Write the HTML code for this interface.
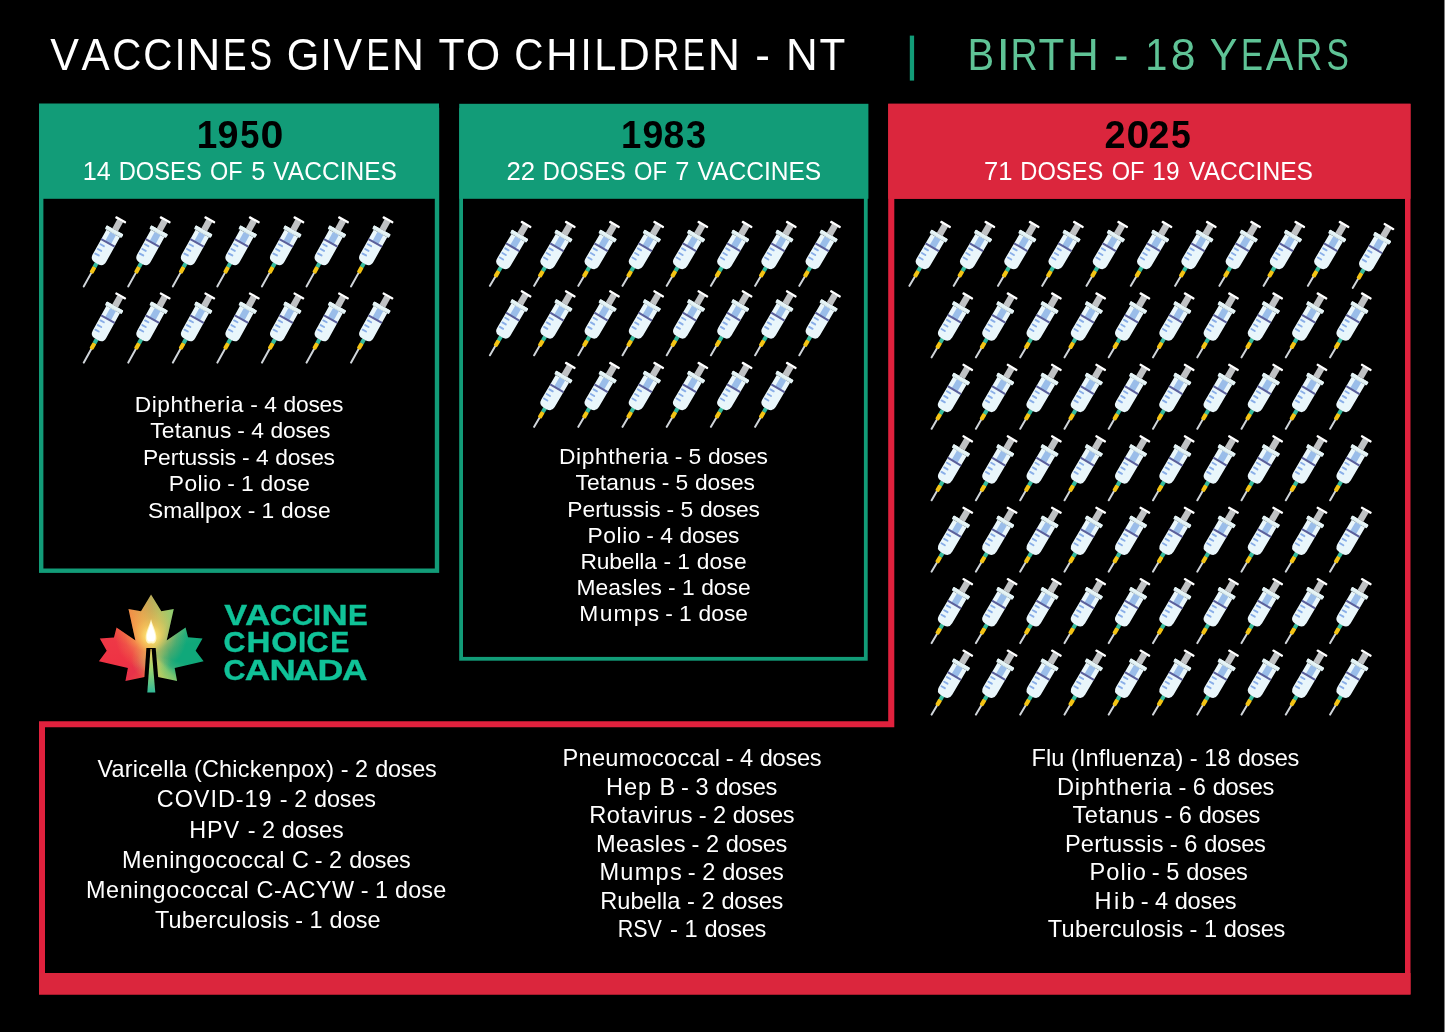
<!DOCTYPE html>
<html lang="en"><head><meta charset="utf-8"><title>Vaccines given to children - NT</title>
<style>
html,body{margin:0;padding:0;background:#000;}
body{width:1445px;height:1032px;position:relative;overflow:hidden;font-family:"Liberation Sans",sans-serif;}
svg{position:absolute;left:0;top:0;}
#txt{position:absolute;left:0;top:0;width:1445px;height:1032px;will-change:transform;}
.t{position:absolute;white-space:nowrap;transform-origin:0 0;margin:0;padding:0;}
.t span{display:inline-block;}
</style></head><body>
<svg width="1445" height="1032" viewBox="0 0 1445 1032">
<defs><g id="body">
<rect x="-2.1" y="-6.7" width="4.2" height="7.2" rx="1.2" fill="#f4c414"/>
<rect x="-2.05" y="-10.9" width="4.1" height="4.6" fill="#36bb9d"/>
<path d="M-7.7,-44.8 L7.7,-44.8 L7.7,-16.6 Q7.7,-10.6 1.7,-10.6 L-1.7,-10.6 Q-7.7,-10.6 -7.7,-16.6 Z" fill="#e9f6fb"/>
<rect x="-3.3" y="-44.8" width="6.6" height="11" fill="#9abde9"/>
<rect x="-7.7" y="-34.9" width="15.4" height="2.0" fill="#5a5f9b"/>
<rect x="-6.8" y="-30.1" width="5.8" height="1.9" rx="0.95" fill="#89aee8"/>
<rect x="-6.8" y="-24.7" width="5.8" height="1.9" rx="0.95" fill="#89aee8"/>
<rect x="-6.8" y="-19.5" width="5.8" height="1.9" rx="0.95" fill="#89aee8"/>
<rect x="-9.5" y="-48.8" width="19" height="4.1" rx="0.9" fill="#dbecef"/>
<rect x="-9.5" y="-48.8" width="19" height="2.6" rx="0.9" fill="#e6f4f6"/>
<rect x="-3.3" y="-59.4" width="6.6" height="10.7" fill="#bfc1c3"/>
<rect x="-6" y="-61.5" width="12" height="2.35" rx="0.9" fill="#ffffff"/>
</g>
<g id="syrA"><rect x="-1" y="-17.3" width="2" height="17.3" rx="0.8" fill="#d0d5da"/><use href="#body" y="-16.8"/></g>
<g id="syrB"><rect x="-1" y="-12.4" width="2" height="12.4" rx="0.8" fill="#d0d5da"/><use href="#body" y="-11.9"/></g></defs>
<rect x="41.2" y="110" width="395.8" height="460.7" fill="none" stroke="#129c78" stroke-width="4.4"/>
<rect x="39" y="103.5" width="400" height="95.3" fill="#129c78"/>
<rect x="461.1" y="110" width="404.7" height="548.8" fill="none" stroke="#129c78" stroke-width="3.8"/>
<rect x="459.2" y="103.8" width="409.2" height="95" fill="#129c78"/>
<path d="M888.2,103.8 L1410.5,103.8 L1410.5,994.5 L39,994.5 L39,721.3 L888.2,721.3 Z M894.3,198.8 L1405,198.8 L1405,973 L45,973 L45,727.3 L894.3,727.3 Z" fill="#e0213d" fill-rule="evenodd"/>
<rect x="888.2" y="103.8" width="522.3" height="95" fill="#db263d"/>
<rect x="39" y="973" width="1371.5" height="21.5" fill="#db263d"/>
<rect x="909.8" y="35.6" width="4.3" height="45" fill="#129c78"/>
<rect x="1444" y="0" width="1" height="1032" fill="#7c7c7c"/>
<use href="#syrA" transform="translate(83.3,287.3) rotate(29.0)"/>
<use href="#syrA" transform="translate(127.8,287.3) rotate(29.0)"/>
<use href="#syrA" transform="translate(172.4,287.3) rotate(29.0)"/>
<use href="#syrA" transform="translate(216.9,287.3) rotate(29.0)"/>
<use href="#syrA" transform="translate(261.5,287.3) rotate(29.0)"/>
<use href="#syrA" transform="translate(306.1,287.3) rotate(29.0)"/>
<use href="#syrA" transform="translate(350.6,287.3) rotate(29.0)"/>
<use href="#syrA" transform="translate(83.3,363.4) rotate(29.0)"/>
<use href="#syrA" transform="translate(127.8,363.4) rotate(29.0)"/>
<use href="#syrA" transform="translate(172.4,363.4) rotate(29.0)"/>
<use href="#syrA" transform="translate(216.9,363.4) rotate(29.0)"/>
<use href="#syrA" transform="translate(261.5,363.4) rotate(29.0)"/>
<use href="#syrA" transform="translate(306.1,363.4) rotate(29.0)"/>
<use href="#syrA" transform="translate(350.6,363.4) rotate(29.0)"/>
<use href="#syrB" transform="translate(489.4,286.7) rotate(30.5)"/>
<use href="#syrB" transform="translate(533.6,286.7) rotate(30.5)"/>
<use href="#syrB" transform="translate(577.8,286.7) rotate(30.5)"/>
<use href="#syrB" transform="translate(622.0,286.7) rotate(30.5)"/>
<use href="#syrB" transform="translate(666.2,286.7) rotate(30.5)"/>
<use href="#syrB" transform="translate(710.4,286.7) rotate(30.5)"/>
<use href="#syrB" transform="translate(754.6,286.7) rotate(30.5)"/>
<use href="#syrB" transform="translate(798.8,286.7) rotate(30.5)"/>
<use href="#syrB" transform="translate(489.4,356.1) rotate(30.5)"/>
<use href="#syrB" transform="translate(533.6,356.1) rotate(30.5)"/>
<use href="#syrB" transform="translate(577.8,356.1) rotate(30.5)"/>
<use href="#syrB" transform="translate(622.0,356.1) rotate(30.5)"/>
<use href="#syrB" transform="translate(666.2,356.1) rotate(30.5)"/>
<use href="#syrB" transform="translate(710.4,356.1) rotate(30.5)"/>
<use href="#syrB" transform="translate(754.6,356.1) rotate(30.5)"/>
<use href="#syrB" transform="translate(798.8,356.1) rotate(30.5)"/>
<use href="#syrB" transform="translate(533.6,427.7) rotate(30.5)"/>
<use href="#syrB" transform="translate(577.8,427.7) rotate(30.5)"/>
<use href="#syrB" transform="translate(622.0,427.7) rotate(30.5)"/>
<use href="#syrB" transform="translate(666.2,427.7) rotate(30.5)"/>
<use href="#syrB" transform="translate(710.4,427.7) rotate(30.5)"/>
<use href="#syrB" transform="translate(754.6,427.7) rotate(30.5)"/>
<use href="#syrB" transform="translate(908.9,286.7) rotate(30.5)"/>
<use href="#syrB" transform="translate(953.2,286.7) rotate(30.5)"/>
<use href="#syrB" transform="translate(997.5,286.7) rotate(30.5)"/>
<use href="#syrB" transform="translate(1041.7,286.7) rotate(30.5)"/>
<use href="#syrB" transform="translate(1086.0,286.7) rotate(30.5)"/>
<use href="#syrB" transform="translate(1130.3,286.7) rotate(30.5)"/>
<use href="#syrB" transform="translate(1174.6,286.7) rotate(30.5)"/>
<use href="#syrB" transform="translate(1218.9,286.7) rotate(30.5)"/>
<use href="#syrB" transform="translate(1263.1,286.7) rotate(30.5)"/>
<use href="#syrB" transform="translate(1307.4,286.7) rotate(30.5)"/>
<use href="#syrB" transform="translate(1352.3,288.8) rotate(30.5)"/>
<use href="#syrB" transform="translate(931.1,358.2) rotate(30.5)"/>
<use href="#syrB" transform="translate(975.4,358.2) rotate(30.5)"/>
<use href="#syrB" transform="translate(1019.7,358.2) rotate(30.5)"/>
<use href="#syrB" transform="translate(1064.0,358.2) rotate(30.5)"/>
<use href="#syrB" transform="translate(1108.2,358.2) rotate(30.5)"/>
<use href="#syrB" transform="translate(1152.5,358.2) rotate(30.5)"/>
<use href="#syrB" transform="translate(1196.8,358.2) rotate(30.5)"/>
<use href="#syrB" transform="translate(1241.0,358.2) rotate(30.5)"/>
<use href="#syrB" transform="translate(1285.3,358.2) rotate(30.5)"/>
<use href="#syrB" transform="translate(1329.6,358.2) rotate(30.5)"/>
<use href="#syrB" transform="translate(931.1,429.6) rotate(30.5)"/>
<use href="#syrB" transform="translate(975.4,429.6) rotate(30.5)"/>
<use href="#syrB" transform="translate(1019.7,429.6) rotate(30.5)"/>
<use href="#syrB" transform="translate(1064.0,429.6) rotate(30.5)"/>
<use href="#syrB" transform="translate(1108.2,429.6) rotate(30.5)"/>
<use href="#syrB" transform="translate(1152.5,429.6) rotate(30.5)"/>
<use href="#syrB" transform="translate(1196.8,429.6) rotate(30.5)"/>
<use href="#syrB" transform="translate(1241.0,429.6) rotate(30.5)"/>
<use href="#syrB" transform="translate(1285.3,429.6) rotate(30.5)"/>
<use href="#syrB" transform="translate(1329.6,429.6) rotate(30.5)"/>
<use href="#syrB" transform="translate(931.1,501.1) rotate(30.5)"/>
<use href="#syrB" transform="translate(975.4,501.1) rotate(30.5)"/>
<use href="#syrB" transform="translate(1019.7,501.1) rotate(30.5)"/>
<use href="#syrB" transform="translate(1064.0,501.1) rotate(30.5)"/>
<use href="#syrB" transform="translate(1108.2,501.1) rotate(30.5)"/>
<use href="#syrB" transform="translate(1152.5,501.1) rotate(30.5)"/>
<use href="#syrB" transform="translate(1196.8,501.1) rotate(30.5)"/>
<use href="#syrB" transform="translate(1241.0,501.1) rotate(30.5)"/>
<use href="#syrB" transform="translate(1285.3,501.1) rotate(30.5)"/>
<use href="#syrB" transform="translate(1329.6,501.1) rotate(30.5)"/>
<use href="#syrB" transform="translate(931.1,572.5) rotate(30.5)"/>
<use href="#syrB" transform="translate(975.4,572.5) rotate(30.5)"/>
<use href="#syrB" transform="translate(1019.7,572.5) rotate(30.5)"/>
<use href="#syrB" transform="translate(1064.0,572.5) rotate(30.5)"/>
<use href="#syrB" transform="translate(1108.2,572.5) rotate(30.5)"/>
<use href="#syrB" transform="translate(1152.5,572.5) rotate(30.5)"/>
<use href="#syrB" transform="translate(1196.8,572.5) rotate(30.5)"/>
<use href="#syrB" transform="translate(1241.0,572.5) rotate(30.5)"/>
<use href="#syrB" transform="translate(1285.3,572.5) rotate(30.5)"/>
<use href="#syrB" transform="translate(1329.6,572.5) rotate(30.5)"/>
<use href="#syrB" transform="translate(931.1,643.9) rotate(30.5)"/>
<use href="#syrB" transform="translate(975.4,643.9) rotate(30.5)"/>
<use href="#syrB" transform="translate(1019.7,643.9) rotate(30.5)"/>
<use href="#syrB" transform="translate(1064.0,643.9) rotate(30.5)"/>
<use href="#syrB" transform="translate(1108.2,643.9) rotate(30.5)"/>
<use href="#syrB" transform="translate(1152.5,643.9) rotate(30.5)"/>
<use href="#syrB" transform="translate(1196.8,643.9) rotate(30.5)"/>
<use href="#syrB" transform="translate(1241.0,643.9) rotate(30.5)"/>
<use href="#syrB" transform="translate(1285.3,643.9) rotate(30.5)"/>
<use href="#syrB" transform="translate(1329.6,643.9) rotate(30.5)"/>
<use href="#syrB" transform="translate(931.1,715.4) rotate(30.5)"/>
<use href="#syrB" transform="translate(975.4,715.4) rotate(30.5)"/>
<use href="#syrB" transform="translate(1019.7,715.4) rotate(30.5)"/>
<use href="#syrB" transform="translate(1064.0,715.4) rotate(30.5)"/>
<use href="#syrB" transform="translate(1108.2,715.4) rotate(30.5)"/>
<use href="#syrB" transform="translate(1152.5,715.4) rotate(30.5)"/>
<use href="#syrB" transform="translate(1196.8,715.4) rotate(30.5)"/>
<use href="#syrB" transform="translate(1241.0,715.4) rotate(30.5)"/>
<use href="#syrB" transform="translate(1285.3,715.4) rotate(30.5)"/>
<use href="#syrB" transform="translate(1329.6,715.4) rotate(30.5)"/>
</svg>
<div id="leaf" style="position:absolute;left:90px;top:585px;width:125px;height:115px;clip-path:polygon(61.05px 9.47px,71.30px 26.18px,83.78px 23.95px,76.65px 55.48px,95.59px 42.56px,98.04px 52.36px,112.52px 53.48px,105.61px 65.73px,113.64px 76.31px,84.67px 83.00px,87.12px 96.03px,67.96px 91.91px,54.59px 91.91px,35.43px 96.03px,37.88px 83.00px,8.91px 76.31px,16.71px 65.73px,9.80px 53.48px,23.95px 52.58px,26.52px 42.56px,45.45px 55.48px,38.44px 23.95px,51.02px 26.18px);background:radial-gradient(circle at 61.1px 50.7px,rgba(255,246,170,1) 0,rgba(252,222,112,.95) 5px,rgba(248,200,92,.75) 11px,rgba(246,186,84,.48) 18px,rgba(246,176,80,.22) 26px,rgba(246,170,80,0) 36px),radial-gradient(circle at 61.1px 74.6px,rgba(214,214,100,.7) 0,rgba(206,212,100,.45) 8px,rgba(200,210,100,.18) 14px,rgba(200,210,100,0) 20px),conic-gradient(from 0deg at 61.1px 69.1px,#bcac5a 0deg,#a4c868 14deg,#88d074 27deg,#48b87a 45deg,#1cac7c 60deg,#10a87a 75deg,#10a87a 105deg,#34b07a 122deg,#7cc670 136deg,#b0cc64 155deg,#c8c05c 170deg,#e09050 180deg,#f06a42 190deg,#ec4046 205deg,#e8324a 224deg,#ee3344 260deg,#ee3846 290deg,#f05242 307deg,#f07a44 322deg,#f08c46 333deg,#dca250 348deg,#bcac5a 360deg);"></div>
<svg width="125" height="115" viewBox="0 0 125 115" style="left:90px;top:585px;">
<defs>
<linearGradient id="sg" gradientUnits="userSpaceOnUse" x1="0" y1="64" x2="0" y2="108">
<stop offset="0" stop-color="#f2d060"/><stop offset="0.45" stop-color="#9fd66e"/><stop offset="1" stop-color="#2fb898"/></linearGradient>
<filter id="fb" x="-50%" y="-50%" width="200%" height="200%"><feGaussianBlur stdDeviation="0.5"/></filter>
</defs>
<path d="M56.4,62.9 L65.7,62.9 L68.2,92.5 L54.4,92.5 Z" fill="#000"/>
<path d="M60.5,64.1 L61.6,64.1 L65.3,107.5 L57.3,107.5 Z" fill="url(#sg)"/>
<path d="M61.05,34.31 C62.39,40.11 66.40,46.79 66.40,52.92 C66.40,57.38 63.50,59.60 61.05,57.93 C58.60,59.60 55.70,57.38 55.70,52.92 C55.70,46.79 59.71,40.11 61.05,34.31 Z" fill="#fff6c0" filter="url(#fb)"/>
<path d="M61.05,34.31 C62.39,40.11 66.40,46.79 66.40,52.92 C66.40,57.38 63.50,59.60 61.05,57.93 C58.60,59.60 55.70,57.38 55.70,52.92 C55.70,46.79 59.71,40.11 61.05,34.31 Z" fill="#ffffff" transform="translate(61.1,49.0) scale(0.8) translate(-61.1,-49.0)"/>
</svg>
<div id="txt">
<div class="ln"><div class="t" id="t0" style="left:50.37px;top:28.95px;font-size:44.0px;line-height:52.8px;color:#fff;font-kerning:none;"><span style="margin-left:0.00px;transform:scaleX(0.978);transform-origin:14.78px 0">V</span><span style="margin-left:1.70px;transform:scaleX(0.961);transform-origin:14.78px 0">A</span><span style="margin-left:0.48px;transform:scaleX(0.915);transform-origin:16.16px 0">C</span><span style="margin-left:-1.23px;transform:scaleX(0.919);transform-origin:16.16px 0">C</span><span style="margin-left:0.29px;transform:scaleX(0.873);transform-origin:5.84px 0">I</span><span style="margin-left:1.71px;transform:scaleX(1.042);transform-origin:15.81px 0">N</span><span style="margin-left:0.62px;transform:scaleX(0.802);transform-origin:15.47px 0">E</span><span style="margin-left:-3.82px;transform:scaleX(0.777);transform-origin:14.44px 0">S</span></div> <div class="t" id="t1" style="left:285.75px;top:28.95px;font-size:44.0px;line-height:52.8px;color:#fff;font-kerning:none;"><span style="margin-left:0.00px;transform:scaleX(0.952);transform-origin:16.50px 0">G</span><span style="margin-left:0.38px;transform:scaleX(0.914);transform-origin:5.84px 0">I</span><span style="margin-left:0.84px;transform:scaleX(0.974);transform-origin:14.78px 0">V</span><span style="margin-left:0.01px;transform:scaleX(0.794);transform-origin:15.47px 0">E</span><span style="margin-left:-0.19px;transform:scaleX(1.006);transform-origin:15.81px 0">N</span></div> <div class="t" id="t2" style="left:437.94px;top:28.95px;font-size:44.0px;line-height:52.8px;color:#fff;font-kerning:none;"><span style="margin-left:0.00px;transform:scaleX(0.971);transform-origin:13.41px 0">T</span><span style="margin-left:1.04px;transform:scaleX(1.008);transform-origin:17.19px 0">O</span></div> <div class="t" id="t3" style="left:513.19px;top:28.95px;font-size:44.0px;line-height:52.8px;color:#fff;font-kerning:none;"><span style="margin-left:0.00px;transform:scaleX(0.919);transform-origin:16.16px 0">C</span><span style="margin-left:0.87px;transform:scaleX(0.998);transform-origin:15.81px 0">H</span><span style="margin-left:2.34px;transform:scaleX(0.914);transform-origin:5.84px 0">I</span><span style="margin-left:0.76px;transform:scaleX(0.888);transform-origin:13.41px 0">L</span><span style="margin-left:0.59px;transform:scaleX(1.011);transform-origin:16.84px 0">D</span><span style="margin-left:0.12px;transform:scaleX(0.839);transform-origin:16.84px 0">R</span><span style="margin-left:-3.10px;transform:scaleX(0.761);transform-origin:15.47px 0">E</span><span style="margin-left:0.41px;transform:scaleX(1.014);transform-origin:15.81px 0">N</span></div> <div class="t" id="t4" style="left:755.32px;top:28.95px;font-size:44.0px;line-height:52.8px;color:#fff;">-</div> <div class="t" id="t5" style="left:785.74px;top:28.95px;font-size:44.0px;line-height:52.8px;color:#fff;font-kerning:none;"><span style="margin-left:0.00px;transform:scaleX(0.998);transform-origin:15.81px 0">N</span><span style="margin-left:1.68px;transform:scaleX(0.959);transform-origin:13.41px 0">T</span></div> <div class="t" id="t6" style="left:965.73px;top:28.95px;font-size:44.0px;line-height:52.8px;color:#5fc396;font-kerning:none;"><span style="margin-left:0.00px;transform:scaleX(0.906);transform-origin:15.47px 0">B</span><span style="margin-left:1.43px;transform:scaleX(1.101);transform-origin:5.84px 0">I</span><span style="margin-left:-0.72px;transform:scaleX(0.854);transform-origin:16.84px 0">R</span><span style="margin-left:-1.69px;transform:scaleX(0.959);transform-origin:13.41px 0">T</span><span style="margin-left:2.12px;transform:scaleX(1.002);transform-origin:15.81px 0">H</span></div> <div class="t" id="t7" style="left:1113.87px;top:28.95px;font-size:44.0px;line-height:52.8px;color:#5fc396;">-</div> <div class="t" id="t8" style="left:1143.98px;top:28.95px;font-size:44.0px;line-height:52.8px;color:#5fc396;font-kerning:none;"><span style="margin-left:0.00px;transform:scaleX(0.903);transform-origin:12.72px 0">1</span><span style="margin-left:2.32px;transform:scaleX(1.013);transform-origin:12.03px 0">8</span></div> <div class="t" id="t9" style="left:1208.62px;top:28.95px;font-size:44.0px;line-height:52.8px;color:#5fc396;font-kerning:none;"><span style="margin-left:0.00px;transform:scaleX(0.944);transform-origin:14.78px 0">Y</span><span style="margin-left:-0.54px;transform:scaleX(0.748);transform-origin:15.47px 0">E</span><span style="margin-left:-2.11px;transform:scaleX(0.944);transform-origin:14.78px 0">A</span><span style="margin-left:-0.81px;transform:scaleX(0.839);transform-origin:16.84px 0">R</span><span style="margin-left:-2.47px;transform:scaleX(0.762);transform-origin:14.44px 0">S</span></div></div>
<div class="ln"><div class="t" id="t10" style="left:195.60px;top:111.01px;font-size:39.4px;line-height:47.28px;color:#000;font-kerning:none;font-weight:700;"><span style="margin-left:0.00px;transform:scaleX(0.937);transform-origin:11.70px 0">1</span><span style="margin-left:-0.27px;transform:scaleX(0.957);transform-origin:11.08px 0">9</span><span style="margin-left:0.05px;transform:scaleX(0.874);transform-origin:10.77px 0">5</span><span style="margin-left:0.05px;transform:scaleX(1.044);transform-origin:10.77px 0">0</span></div> <div class="t" id="t11" style="left:619.71px;top:111.01px;font-size:39.4px;line-height:47.28px;color:#000;font-kerning:none;font-weight:700;"><span style="margin-left:0.00px;transform:scaleX(0.925);transform-origin:11.70px 0">1</span><span style="margin-left:0.05px;transform:scaleX(0.949);transform-origin:11.08px 0">9</span><span style="margin-left:-0.11px;transform:scaleX(0.949);transform-origin:11.08px 0">8</span><span style="margin-left:-0.13px;transform:scaleX(0.918);transform-origin:10.77px 0">3</span></div></div>
<div class="ln"><div class="t" id="t12" style="left:1104.32px;top:111.01px;font-size:39.4px;line-height:47.28px;color:#000;font-kerning:none;font-weight:700;"><span style="margin-left:0.00px;transform:scaleX(0.959);transform-origin:11.08px 0">2</span><span style="margin-left:0.33px;transform:scaleX(1.041);transform-origin:10.77px 0">0</span><span style="margin-left:-0.96px;transform:scaleX(0.954);transform-origin:11.08px 0">2</span><span style="margin-left:0.33px;transform:scaleX(0.903);transform-origin:10.77px 0">5</span></div></div>
<div class="ln"><div class="t" id="t13" style="left:82px;top:156.04px;font-size:25.0px;line-height:30.0px;color:#fff;transform:translateX(0.855px) scaleX(1.00542);">14</div> <div class="t" id="t14" style="left:118px;top:156.04px;font-size:25.0px;line-height:30.0px;color:#fff;transform:translateX(0.737px) scaleX(0.94849);">DOSES</div> <div class="t" id="t15" style="left:210px;top:156.04px;font-size:25.0px;line-height:30.0px;color:#fff;transform:translateX(0.090px) scaleX(0.93701);">OF</div> <div class="t" id="t16" style="left:251px;top:156.04px;font-size:25.0px;line-height:30.0px;color:#fff;transform:translateX(0.196px) scaleX(1.01134);">5</div> <div class="t" id="t17" style="left:273px;top:156.04px;font-size:25.0px;line-height:30.0px;color:#fff;transform:translateX(0.318px) scaleX(0.98168);">VACCINES</div> <div class="t" id="t18" style="left:506px;top:156.04px;font-size:25.0px;line-height:30.0px;color:#fff;transform:translateX(0.486px) scaleX(1.03086);">22</div> <div class="t" id="t19" style="left:542px;top:156.04px;font-size:25.0px;line-height:30.0px;color:#fff;transform:translateX(0.863px) scaleX(0.94646);">DOSES</div> <div class="t" id="t20" style="left:634px;top:156.04px;font-size:25.0px;line-height:30.0px;color:#fff;transform:translateX(0.055px) scaleX(0.94712);">OF</div> <div class="t" id="t21" style="left:675px;top:156.04px;font-size:25.0px;line-height:30.0px;color:#fff;transform:translateX(0.184px) scaleX(1.01437);">7</div> <div class="t" id="t22" style="left:697px;top:156.04px;font-size:25.0px;line-height:30.0px;color:#fff;transform:translateX(0.486px) scaleX(0.98257);">VACCINES</div></div>
<div class="ln"><div class="t" id="t23" style="left:983px;top:156.04px;font-size:25.0px;line-height:30.0px;color:#fff;transform:translateX(0.890px) scaleX(1.02437);">71</div> <div class="t" id="t24" style="left:1020px;top:156.04px;font-size:25.0px;line-height:30.0px;color:#fff;transform:translateX(0.369px) scaleX(0.94676);">DOSES</div> <div class="t" id="t25" style="left:1111px;top:156.04px;font-size:25.0px;line-height:30.0px;color:#fff;transform:translateX(0.651px) scaleX(0.94326);">OF</div> <div class="t" id="t26" style="left:1152px;top:156.04px;font-size:25.0px;line-height:30.0px;color:#fff;transform:translateX(0.306px) scaleX(0.97652);">19</div> <div class="t" id="t27" style="left:1189px;top:156.04px;font-size:25.0px;line-height:30.0px;color:#fff;transform:translateX(0.063px) scaleX(0.98350);">VACCINES</div></div>
<div class="ln"><div class="t" id="t28" style="left:134.76px;top:391.02px;font-size:22.8px;line-height:27.36px;color:#fff;letter-spacing:0.542px;">Diphtheria</div> <div class="t" id="t29" style="left:250.27px;top:391.02px;font-size:22.8px;line-height:27.36px;color:#fff;">- 4</div> <div class="t" id="t30" style="left:283.52px;top:391.02px;font-size:22.8px;line-height:27.36px;color:#fff;letter-spacing:-0.240px;">doses</div></div>
<div class="ln"><div class="t" id="t31" style="left:150.15px;top:417.32px;font-size:22.8px;line-height:27.36px;color:#fff;letter-spacing:0.228px;">Tetanus</div> <div class="t" id="t32" style="left:237.27px;top:417.32px;font-size:22.8px;line-height:27.36px;color:#fff;">- 4</div> <div class="t" id="t33" style="left:270.52px;top:417.32px;font-size:22.8px;line-height:27.36px;color:#fff;letter-spacing:-0.240px;">doses</div></div>
<div class="ln"><div class="t" id="t34" style="left:142.99px;top:444.02px;font-size:22.8px;line-height:27.36px;color:#fff;letter-spacing:-0.074px;">Pertussis</div> <div class="t" id="t35" style="left:241.98px;top:444.02px;font-size:22.8px;line-height:27.36px;color:#fff;">- 4</div> <div class="t" id="t36" style="left:275.32px;top:444.02px;font-size:22.8px;line-height:27.36px;color:#fff;letter-spacing:-0.285px;">doses</div></div>
<div class="ln"><div class="t" id="t37" style="left:168.86px;top:470.02px;font-size:22.8px;line-height:27.36px;color:#fff;letter-spacing:0.436px;">Polio</div> <div class="t" id="t38" style="left:227.14px;top:470.02px;font-size:22.8px;line-height:27.36px;color:#fff;">- 1</div> <div class="t" id="t39" style="left:260.39px;top:470.02px;font-size:22.8px;line-height:27.36px;color:#fff;letter-spacing:0.073px;">dose</div></div>
<div class="ln"><div class="t" id="t40" style="left:148.02px;top:497.02px;font-size:22.8px;line-height:27.36px;color:#fff;letter-spacing:-0.028px;">Smallpox</div> <div class="t" id="t41" style="left:247.65px;top:497.02px;font-size:22.8px;line-height:27.36px;color:#fff;">- 1</div> <div class="t" id="t42" style="left:280.98px;top:497.02px;font-size:22.8px;line-height:27.36px;color:#fff;letter-spacing:0.120px;">dose</div></div>
<div class="ln"><div class="t" id="t43" style="left:558.99px;top:443.02px;font-size:22.8px;line-height:27.36px;color:#fff;letter-spacing:0.581px;">Diphtheria</div> <div class="t" id="t44" style="left:674.65px;top:443.02px;font-size:22.8px;line-height:27.36px;color:#fff;">- 5</div> <div class="t" id="t45" style="left:707.98px;top:443.02px;font-size:22.8px;line-height:27.36px;color:#fff;letter-spacing:-0.206px;">doses</div></div>
<div class="ln"><div class="t" id="t46" style="left:575.51px;top:469.32px;font-size:22.8px;line-height:27.36px;color:#fff;letter-spacing:0.096px;">Tetanus</div> <div class="t" id="t47" style="left:661.65px;top:469.32px;font-size:22.8px;line-height:27.36px;color:#fff;">- 5</div> <div class="t" id="t48" style="left:694.98px;top:469.32px;font-size:22.8px;line-height:27.36px;color:#fff;letter-spacing:-0.206px;">doses</div></div>
<div class="ln"><div class="t" id="t49" style="left:567.36px;top:496.02px;font-size:22.8px;line-height:27.36px;color:#fff;letter-spacing:-0.050px;">Pertussis</div> <div class="t" id="t50" style="left:666.55px;top:496.02px;font-size:22.8px;line-height:27.36px;color:#fff;">- 5</div> <div class="t" id="t51" style="left:700.00px;top:496.02px;font-size:22.8px;line-height:27.36px;color:#fff;letter-spacing:-0.229px;">doses</div></div>
<div class="ln"><div class="t" id="t52" style="left:587.54px;top:522.02px;font-size:22.8px;line-height:27.36px;color:#fff;letter-spacing:0.567px;">Polio</div> <div class="t" id="t53" style="left:646.27px;top:522.02px;font-size:22.8px;line-height:27.36px;color:#fff;">- 4</div> <div class="t" id="t54" style="left:679.52px;top:522.02px;font-size:22.8px;line-height:27.36px;color:#fff;letter-spacing:-0.240px;">doses</div></div>
<div class="ln"><div class="t" id="t55" style="left:580.47px;top:548.02px;font-size:22.8px;line-height:27.36px;color:#fff;letter-spacing:-0.141px;">Rubella</div> <div class="t" id="t56" style="left:663.45px;top:548.02px;font-size:22.8px;line-height:27.36px;color:#fff;">- 1</div> <div class="t" id="t57" style="left:696.71px;top:548.02px;font-size:22.8px;line-height:27.36px;color:#fff;letter-spacing:0.140px;">dose</div></div>
<div class="ln"><div class="t" id="t58" style="left:576.54px;top:574.02px;font-size:22.8px;line-height:27.36px;color:#fff;letter-spacing:0.072px;">Measles</div> <div class="t" id="t59" style="left:667.96px;top:574.02px;font-size:22.8px;line-height:27.36px;color:#fff;">- 1</div> <div class="t" id="t60" style="left:701.15px;top:574.02px;font-size:22.8px;line-height:27.36px;color:#fff;letter-spacing:0.035px;">dose</div></div>
<div class="ln"><div class="t" id="t61" style="left:579.36px;top:600.32px;font-size:22.8px;line-height:27.36px;color:#fff;letter-spacing:1.278px;">Mumps</div> <div class="t" id="t62" style="left:665.14px;top:600.32px;font-size:22.8px;line-height:27.36px;color:#fff;">- 1</div> <div class="t" id="t63" style="left:698.39px;top:600.32px;font-size:22.8px;line-height:27.36px;color:#fff;letter-spacing:0.073px;">dose</div></div>
<div class="ln"><div class="t" id="t64" style="left:97.42px;top:755.05px;font-size:23.4px;line-height:28.08px;color:#fff;letter-spacing:0.214px;">Varicella (Chickenpox)</div> <div class="t" id="t65" style="left:340.84px;top:755.05px;font-size:23.4px;line-height:28.08px;color:#fff;">- 2</div> <div class="t" id="t66" style="left:375.13px;top:755.05px;font-size:23.4px;line-height:28.08px;color:#fff;letter-spacing:-0.187px;">doses</div></div>
<div class="ln"><div class="t" id="t67" style="left:156.82px;top:785.05px;font-size:23.4px;line-height:28.08px;color:#fff;letter-spacing:0.980px;">COVID-19</div> <div class="t" id="t68" style="left:279.85px;top:785.05px;font-size:23.4px;line-height:28.08px;color:#fff;">- 2</div> <div class="t" id="t69" style="left:314.08px;top:785.05px;font-size:23.4px;line-height:28.08px;color:#fff;letter-spacing:-0.129px;">doses</div></div>
<div class="ln"><div class="t" id="t70" style="left:189.25px;top:816.05px;font-size:23.4px;line-height:28.08px;color:#fff;letter-spacing:0.935px;">HPV</div> <div class="t" id="t71" style="left:247.65px;top:816.05px;font-size:23.4px;line-height:28.08px;color:#fff;">- 2</div> <div class="t" id="t72" style="left:281.76px;top:816.05px;font-size:23.4px;line-height:28.08px;color:#fff;letter-spacing:-0.130px;">doses</div></div>
<div class="ln"><div class="t" id="t73" style="left:122.06px;top:846.05px;font-size:23.4px;line-height:28.08px;color:#fff;letter-spacing:0.531px;">Meningococcal C</div> <div class="t" id="t74" style="left:314.84px;top:846.05px;font-size:23.4px;line-height:28.08px;color:#fff;">- 2</div> <div class="t" id="t75" style="left:349.13px;top:846.05px;font-size:23.4px;line-height:28.08px;color:#fff;letter-spacing:-0.187px;">doses</div></div>
<div class="ln"><div class="t" id="t76" style="left:86.06px;top:876.05px;font-size:23.4px;line-height:28.08px;color:#fff;letter-spacing:0.562px;">Meningococcal C-ACYW</div> <div class="t" id="t77" style="left:360.63px;top:876.05px;font-size:23.4px;line-height:28.08px;color:#fff;">- 1</div> <div class="t" id="t78" style="left:395.00px;top:876.05px;font-size:23.4px;line-height:28.08px;color:#fff;letter-spacing:0.142px;">dose</div></div>
<div class="ln"><div class="t" id="t79" style="left:154.89px;top:906.05px;font-size:23.4px;line-height:28.08px;color:#fff;letter-spacing:0.239px;">Tuberculosis</div> <div class="t" id="t80" style="left:295.18px;top:906.05px;font-size:23.4px;line-height:28.08px;color:#fff;">- 1</div> <div class="t" id="t81" style="left:329.62px;top:906.05px;font-size:23.4px;line-height:28.08px;color:#fff;letter-spacing:0.032px;">dose</div></div>
<div class="ln"><div class="t" id="t82" style="left:562.61px;top:744.06px;font-size:23.6px;line-height:28.32px;color:#fff;letter-spacing:0.250px;">Pneumococcal</div> <div class="t" id="t83" style="left:725.65px;top:744.06px;font-size:23.6px;line-height:28.32px;color:#fff;">- 4</div> <div class="t" id="t84" style="left:759.76px;top:744.06px;font-size:23.6px;line-height:28.32px;color:#fff;letter-spacing:-0.291px;">doses</div></div>
<div class="ln"><div class="t" id="t85" style="left:606.07px;top:773.06px;font-size:23.6px;line-height:28.32px;color:#fff;letter-spacing:0.927px;">Hep B</div> <div class="t" id="t86" style="left:681.09px;top:773.06px;font-size:23.6px;line-height:28.32px;color:#fff;">- 3</div> <div class="t" id="t87" style="left:715.53px;top:773.06px;font-size:23.6px;line-height:28.32px;color:#fff;letter-spacing:-0.293px;">doses</div></div>
<div class="ln"><div class="t" id="t88" style="left:589.35px;top:801.06px;font-size:23.6px;line-height:28.32px;color:#fff;letter-spacing:0.439px;">Rotavirus</div> <div class="t" id="t89" style="left:698.65px;top:801.06px;font-size:23.6px;line-height:28.32px;color:#fff;">- 2</div> <div class="t" id="t90" style="left:732.76px;top:801.06px;font-size:23.6px;line-height:28.32px;color:#fff;letter-spacing:-0.291px;">doses</div></div>
<div class="ln"><div class="t" id="t91" style="left:596.07px;top:830.06px;font-size:23.6px;line-height:28.32px;color:#fff;letter-spacing:0.260px;">Measles</div> <div class="t" id="t92" style="left:691.53px;top:830.06px;font-size:23.6px;line-height:28.32px;color:#fff;">- 2</div> <div class="t" id="t93" style="left:725.78px;top:830.06px;font-size:23.6px;line-height:28.32px;color:#fff;letter-spacing:-0.332px;">doses</div></div>
<div class="ln"><div class="t" id="t94" style="left:599.42px;top:858.06px;font-size:23.6px;line-height:28.32px;color:#fff;letter-spacing:1.234px;">Mumps</div> <div class="t" id="t95" style="left:687.84px;top:858.06px;font-size:23.6px;line-height:28.32px;color:#fff;">- 2</div> <div class="t" id="t96" style="left:722.13px;top:858.06px;font-size:23.6px;line-height:28.32px;color:#fff;letter-spacing:-0.319px;">doses</div></div>
<div class="ln"><div class="t" id="t97" style="left:600.35px;top:887.06px;font-size:23.6px;line-height:28.32px;color:#fff;letter-spacing:-0.009px;">Rubella</div> <div class="t" id="t98" style="left:687.09px;top:887.06px;font-size:23.6px;line-height:28.32px;color:#fff;">- 2</div> <div class="t" id="t99" style="left:721.53px;top:887.06px;font-size:23.6px;line-height:28.32px;color:#fff;letter-spacing:-0.293px;">doses</div></div>
<div class="ln"><div class="t" id="t100" style="left:617px;top:915.06px;font-size:23.6px;line-height:28.32px;color:#fff;transform:translateX(0.686px) scaleX(0.90880);">RSV</div> <div class="t" id="t101" style="left:670.09px;top:915.06px;font-size:23.6px;line-height:28.32px;color:#fff;">- 1</div> <div class="t" id="t102" style="left:704.53px;top:915.06px;font-size:23.6px;line-height:28.32px;color:#fff;letter-spacing:-0.293px;">doses</div></div>
<div class="ln"><div class="t" id="t103" style="left:1031.42px;top:744.06px;font-size:23.6px;line-height:28.32px;color:#fff;letter-spacing:0.077px;">Flu (Influenza)</div> <div class="t" id="t104" style="left:1189.87px;top:744.06px;font-size:23.6px;line-height:28.32px;color:#fff;">- 18</div> <div class="t" id="t105" style="left:1237.78px;top:744.06px;font-size:23.6px;line-height:28.32px;color:#fff;letter-spacing:-0.332px;">doses</div></div>
<div class="ln"><div class="t" id="t106" style="left:1056.89px;top:773.06px;font-size:23.6px;line-height:28.32px;color:#fff;letter-spacing:0.789px;">Diphtheria</div> <div class="t" id="t107" style="left:1178.39px;top:773.06px;font-size:23.6px;line-height:28.32px;color:#fff;">- 6</div> <div class="t" id="t108" style="left:1212.74px;top:773.06px;font-size:23.6px;line-height:28.32px;color:#fff;letter-spacing:-0.356px;">doses</div></div>
<div class="ln"><div class="t" id="t109" style="left:1072.44px;top:801.06px;font-size:23.6px;line-height:28.32px;color:#fff;letter-spacing:0.537px;">Tetanus</div> <div class="t" id="t110" style="left:1164.39px;top:801.06px;font-size:23.6px;line-height:28.32px;color:#fff;">- 6</div> <div class="t" id="t111" style="left:1198.74px;top:801.06px;font-size:23.6px;line-height:28.32px;color:#fff;letter-spacing:-0.356px;">doses</div></div>
<div class="ln"><div class="t" id="t112" style="left:1064.89px;top:830.06px;font-size:23.6px;line-height:28.32px;color:#fff;letter-spacing:0.214px;">Pertussis</div> <div class="t" id="t113" style="left:1169.84px;top:830.06px;font-size:23.6px;line-height:28.32px;color:#fff;">- 6</div> <div class="t" id="t114" style="left:1204.13px;top:830.06px;font-size:23.6px;line-height:28.32px;color:#fff;letter-spacing:-0.319px;">doses</div></div>
<div class="ln"><div class="t" id="t115" style="left:1089.61px;top:858.06px;font-size:23.6px;line-height:28.32px;color:#fff;letter-spacing:0.968px;">Polio</div> <div class="t" id="t116" style="left:1151.85px;top:858.06px;font-size:23.6px;line-height:28.32px;color:#fff;">- 5</div> <div class="t" id="t117" style="left:1186.24px;top:858.06px;font-size:23.6px;line-height:28.32px;color:#fff;letter-spacing:-0.319px;">doses</div></div>
<div class="ln"><div class="t" id="t118" style="left:1094.61px;top:887.06px;font-size:23.6px;line-height:28.32px;color:#fff;letter-spacing:2.272px;">Hib</div> <div class="t" id="t119" style="left:1140.65px;top:887.06px;font-size:23.6px;line-height:28.32px;color:#fff;">- 4</div> <div class="t" id="t120" style="left:1174.76px;top:887.06px;font-size:23.6px;line-height:28.32px;color:#fff;letter-spacing:-0.291px;">doses</div></div>
<div class="ln"><div class="t" id="t121" style="left:1047.74px;top:915.06px;font-size:23.6px;line-height:28.32px;color:#fff;letter-spacing:0.251px;">Tuberculosis</div> <div class="t" id="t122" style="left:1189.53px;top:915.06px;font-size:23.6px;line-height:28.32px;color:#fff;">- 1</div> <div class="t" id="t123" style="left:1223.78px;top:915.06px;font-size:23.6px;line-height:28.32px;color:#fff;letter-spacing:-0.332px;">doses</div></div>
<div class="ln"><div class="t" id="t124" style="left:225.71px;top:597.07px;font-size:29.3px;line-height:35.16px;color:#10c298;font-kerning:none;font-weight:700;-webkit-text-stroke:0.35px #10c298;"><span style="margin-left:0.00px;transform:scaleX(1.173);transform-origin:9.84px 0">V</span><span style="margin-left:1.52px;transform:scaleX(1.201);transform-origin:10.53px 0">A</span><span style="margin-left:1.91px;transform:scaleX(1.026);transform-origin:10.76px 0">C</span><span style="margin-left:0.84px;transform:scaleX(1.016);transform-origin:10.76px 0">C</span><span style="margin-left:0.33px;transform:scaleX(0.983);transform-origin:4.12px 0">I</span><span style="margin-left:2.40px;transform:scaleX(1.242);transform-origin:10.53px 0">N</span><span style="margin-left:2.82px;transform:scaleX(1.010);transform-origin:10.30px 0">E</span></div></div>
<div class="ln"><div class="t" id="t125" style="left:224.19px;top:624.07px;font-size:29.3px;line-height:35.16px;color:#10c298;font-kerning:none;font-weight:700;-webkit-text-stroke:0.35px #10c298;"><span style="margin-left:0.00px;transform:scaleX(1.041);transform-origin:10.76px 0">C</span><span style="margin-left:2.87px;transform:scaleX(1.132);transform-origin:10.53px 0">H</span><span style="margin-left:3.37px;transform:scaleX(1.149);transform-origin:11.45px 0">O</span><span style="margin-left:2.53px;transform:scaleX(1.005);transform-origin:4.12px 0">I</span><span style="margin-left:1.07px;transform:scaleX(1.041);transform-origin:10.76px 0">C</span><span style="margin-left:1.50px;transform:scaleX(0.974);transform-origin:10.30px 0">E</span></div></div>
<div class="ln"><div class="t" id="t126" style="left:224.19px;top:652.07px;font-size:29.3px;line-height:35.16px;color:#10c298;font-kerning:none;font-weight:700;-webkit-text-stroke:0.35px #10c298;"><span style="margin-left:0.00px;transform:scaleX(1.041);transform-origin:10.76px 0">C</span><span style="margin-left:1.52px;transform:scaleX(1.211);transform-origin:10.53px 0">A</span><span style="margin-left:3.74px;transform:scaleX(1.242);transform-origin:10.53px 0">N</span><span style="margin-left:2.24px;transform:scaleX(1.201);transform-origin:10.53px 0">A</span><span style="margin-left:3.98px;transform:scaleX(1.223);transform-origin:10.99px 0">D</span><span style="margin-left:2.10px;transform:scaleX(1.201);transform-origin:10.53px 0">A</span></div></div>
</div>
</body></html>
